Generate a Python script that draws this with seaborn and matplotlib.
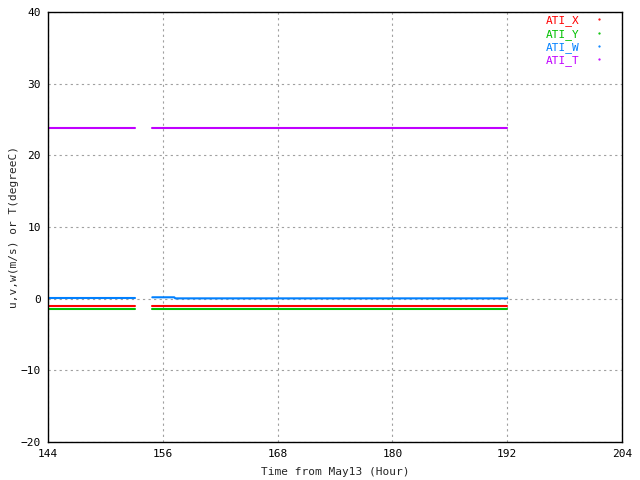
import numpy as np
import pandas as pd
import seaborn as sns
import matplotlib.pyplot as plt
from matplotlib.lines import Line2D

## Data (hours from May13, constant sensor levels)
series_names = ["ATI_X", "ATI_Y", "ATI_W", "ATI_T"]
series_colors = ["#ff0000", "#00c000", "#0080ff", "#c000ff"]

seg1_time = [144.0, 153.1]
seg2_time = [154.9, 192.0]

x_seg1 = [-1.0, -1.0]
x_seg2 = [-1.0, -1.0]
y_seg1 = [-1.45, -1.45]
y_seg2 = [-1.45, -1.45]
w_seg1 = [0.05, 0.05]
w_time2 = [154.9, 157.2, 157.3, 192.0]
w_seg2 = [0.2, 0.2, 0.05, 0.05]
t_seg1 = [23.8, 23.8]
t_seg2 = [23.8, 23.8]

x_ticks = [144, 156, 168, 180, 192, 204]
y_ticks = [-20, -10, 0, 10, 20, 30, 40]

## Build long table: one unit per continuous segment
rows = []
def add(name, seg, times, vals):
    for t, v in zip(times, vals):
        rows.append({"series": name, "seg": name + seg, "time": t, "value": v})

add("ATI_X", "a", seg1_time, x_seg1)
add("ATI_X", "b", seg2_time, x_seg2)
add("ATI_Y", "a", seg1_time, y_seg1)
add("ATI_Y", "b", seg2_time, y_seg2)
add("ATI_W", "a", seg1_time, w_seg1)
add("ATI_W", "b", w_time2, w_seg2)
add("ATI_T", "a", seg1_time, t_seg1)
add("ATI_T", "b", seg2_time, t_seg2)
df = pd.DataFrame(rows)

sns.set_style("white")
plt.rcParams['font.family'] = ['DejaVu Sans Mono']

fig = plt.figure(figsize=(6.4, 4.8), dpi=100)
ax = fig.add_axes([0.075, 0.079, 0.897, 0.896])

sns.lineplot(data=df, x="time", y="value", hue="series", units="seg",
             estimator=None, sort=False, palette=dict(zip(series_names, series_colors)),
             linewidth=1.5, legend=False, ax=ax)

ax.set_xlim(144, 204)
ax.set_ylim(-20, 40)
ax.set_xticks(x_ticks)
ax.set_yticks(y_ticks)
ax.tick_params(direction="in", length=4, labelsize=8, colors="black", pad=5)
ax.grid(True, color="#a0a0a0", linestyle=(0, (2, 3)), linewidth=0.8)
for sp in ax.spines.values():
    sp.set_color("black")
    sp.set_linewidth(1.0)
ax.set_xlabel("Time from May13 (Hour)", fontsize=8, labelpad=6)
ax.set_ylabel("u,v,w(m/s) or T(degreeC)", fontsize=8, labelpad=1)

handles = [Line2D([], [], marker=".", markersize=1.2, linestyle="none", color=c)
           for c in series_colors]
leg = ax.legend(handles, series_names, loc="upper right", frameon=False,
                markerfirst=False, fontsize=8, handlelength=1.0, handletextpad=1.3,
                labelspacing=0.22, borderaxespad=0.0, borderpad=0.3,
                bbox_to_anchor=(0.976, 1.0))
for txt, c in zip(leg.get_texts(), series_colors):
    txt.set_color(c)

plt.savefig("out.png", dpi=100)
